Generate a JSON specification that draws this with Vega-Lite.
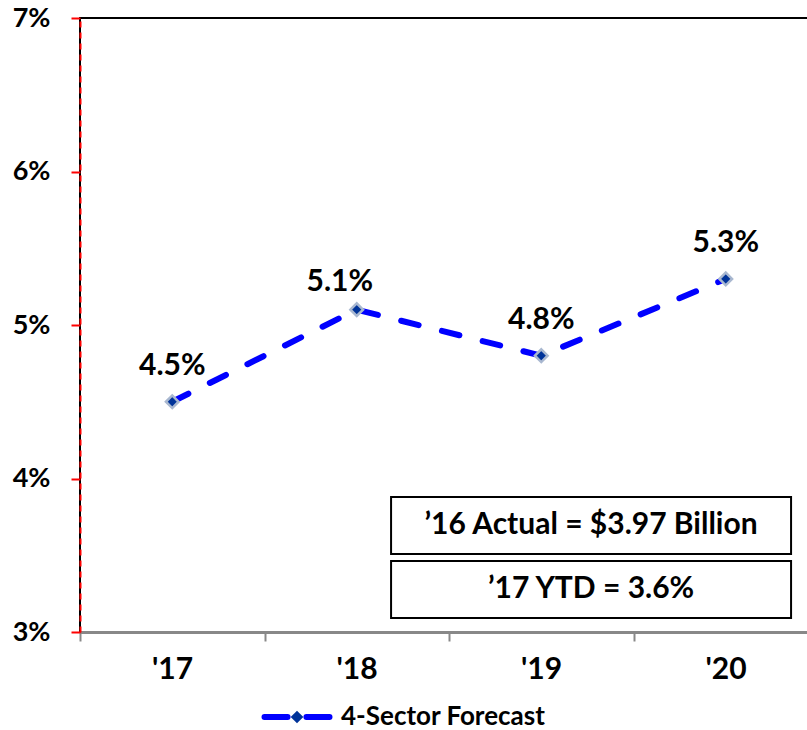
{
  "$schema": "https://vega.github.io/schema/vega-lite/v6.json",
  "width": 738,
  "height": 614,
  "autosize": {"type": "none"},
  "padding": {"left": 80, "top": 18, "right": 0, "bottom": 98},
  "background": "white",
  "config": {
    "font": "Lato",
    "view": {"stroke": "#000000", "strokeWidth": 2},
    "axis": {
      "grid": false,
      "labelFont": "Lato",
      "labelFontWeight": "bold",
      "labelFontSize": 26,
      "labelColor": "#000000"
    }
  },
  "datasets": {
    "forecast": [
      {"yr": 17, "growth": 4.5},
      {"yr": 18, "growth": 5.1},
      {"yr": 19, "growth": 4.8},
      {"yr": 20, "growth": 5.3}
    ],
    "notes": [
      {"note": "’16 Actual = $3.97 Billion", "x1": 18.186, "x2": 20.354, "y1": 3.880, "y2": 3.508},
      {"note": "’17 YTD = 3.6%", "x1": 18.186, "x2": 20.354, "y1": 3.463, "y2": 3.091}
    ]
  },
  "layer": [
    {
      "data": {"name": "forecast"},
      "mark": {"type": "line", "stroke": "#0000FF", "strokeWidth": 6, "strokeDash": [18, 24], "strokeCap": "round"},
      "encoding": {
        "x": {
          "field": "yr",
          "type": "quantitative",
          "scale": {"domain": [16.5, 20.5], "nice": false, "zero": false},
          "axis": {
            "title": null,
            "values": [16.5, 17.5, 18.5, 19.5],
            "labelExpr": "\"'\" + (datum.value + 0.5)",
            "labelOffset": 92,
            "labelFontSize": 30,
            "labelFlush": false,
            "labelOverlap": false,
            "labelBound": false,
            "domainColor": "#888888",
            "domainWidth": 3,
            "tickColor": "#888888",
            "tickWidth": 2,
            "tickSize": 9,
            "labelPadding": 13
          }
        },
        "y": {
          "field": "growth",
          "type": "quantitative",
          "scale": {"domain": [3, 7], "nice": false, "zero": false},
          "axis": {
            "title": null,
            "values": [3, 4, 5, 6, 7],
            "labelExpr": "datum.value + '%'",
            "labelFontSize": 27,
            "labelFlush": false,
            "labelOverlap": false,
            "domainColor": "#FF0000",
            "domainDash": [6, 5],
            "domainWidth": 2,
            "tickColor": "#FF0000",
            "tickWidth": 2,
            "tickSize": 9,
            "labelPadding": 21
          }
        },
        "color": {
          "datum": "line",
          "scale": {"range": ["#0000FF"]},
          "legend": {
            "orient": "none",
            "legendX": 204,
            "legendY": 686,
            "title": null,
            "symbolType": "M-5,0H-1.45M1.45,0H5",
            "symbolSize": 169,
            "symbolStrokeWidth": 6,
            "symbolStrokeColor": "#0000FF",
            "symbolFillColor": "transparent",
            "symbolDash": [1, 0],
            "labelExpr": "''",
            "labelFontSize": 26,
            "encode": {"symbols": {"update": {"strokeCap": {"value": "round"}}}}
          }
        }
      }
    },
    {
      "data": {"name": "forecast"},
      "mark": {"type": "point", "filled": true, "fill": "#003399", "stroke": "#A9B8D0", "strokeWidth": 2.5, "size": 160, "opacity": 1},
      "encoding": {
        "x": {"field": "yr", "type": "quantitative"},
        "y": {"field": "growth", "type": "quantitative"},
        "shape": {
          "datum": "4-Sector Forecast",
          "scale": {"range": ["diamond"]},
          "legend": {
            "orient": "none",
            "legendX": 204,
            "legendY": 686,
            "title": null,
            "symbolSize": 160,
            "symbolFillColor": "#003399",
            "symbolStrokeColor": "#A9B8D0",
            "symbolStrokeWidth": 2.5,
            "symbolOpacity": 1,
            "labelFont": "Lato",
            "labelFontSize": 26,
            "labelFontWeight": "bold",
            "labelColor": "#000000",
            "labelLimit": 400,
            "labelOffset": 31,
            "encode": {"symbols": {"update": {"size": {"value": 170}, "fill": {"value": "#003399"}, "stroke": {"value": "#A9B8D0"}, "strokeWidth": {"value": 2.5}}}}
          }
        }
      }
    },
    {
      "data": {"name": "forecast"},
      "transform": [
        {"filter": "datum.yr != 18"},
        {"calculate": "format(datum.growth, '.1f') + '%'", "as": "label"}
      ],
      "mark": {"type": "text", "fontSize": 30, "fontWeight": "bold", "color": "#000000", "dy": -36, "baseline": "middle"},
      "encoding": {
        "x": {"field": "yr", "type": "quantitative"},
        "y": {"field": "growth", "type": "quantitative"},
        "text": {"field": "label"}
      }
    },
    {
      "data": {"name": "forecast"},
      "transform": [
        {"filter": "datum.yr == 18"},
        {"calculate": "format(datum.growth, '.1f') + '%'", "as": "label"}
      ],
      "mark": {"type": "text", "fontSize": 30, "fontWeight": "bold", "color": "#000000", "dy": -28, "dx": -17, "baseline": "middle"},
      "encoding": {
        "x": {"field": "yr", "type": "quantitative"},
        "y": {"field": "growth", "type": "quantitative"},
        "text": {"field": "label"}
      }
    },
    {
      "data": {"name": "notes"},
      "mark": {"type": "rect", "fill": "#FFFFFF", "stroke": "#000000", "strokeWidth": 2},
      "encoding": {
        "x": {"field": "x1", "type": "quantitative"},
        "x2": {"field": "x2"},
        "y": {"field": "y1", "type": "quantitative"},
        "y2": {"field": "y2"}
      }
    },
    {
      "data": {"name": "notes"},
      "transform": [
        {"calculate": "(datum.x1 + datum.x2) / 2", "as": "xc"},
        {"calculate": "(datum.y1 + datum.y2) / 2", "as": "yc"}
      ],
      "mark": {"type": "text", "fontSize": 30, "fontWeight": "bold", "color": "#000000", "baseline": "middle", "align": "center"},
      "encoding": {
        "x": {"field": "xc", "type": "quantitative"},
        "y": {"field": "yc", "type": "quantitative"},
        "text": {"field": "note"}
      }
    }
  ]
}
